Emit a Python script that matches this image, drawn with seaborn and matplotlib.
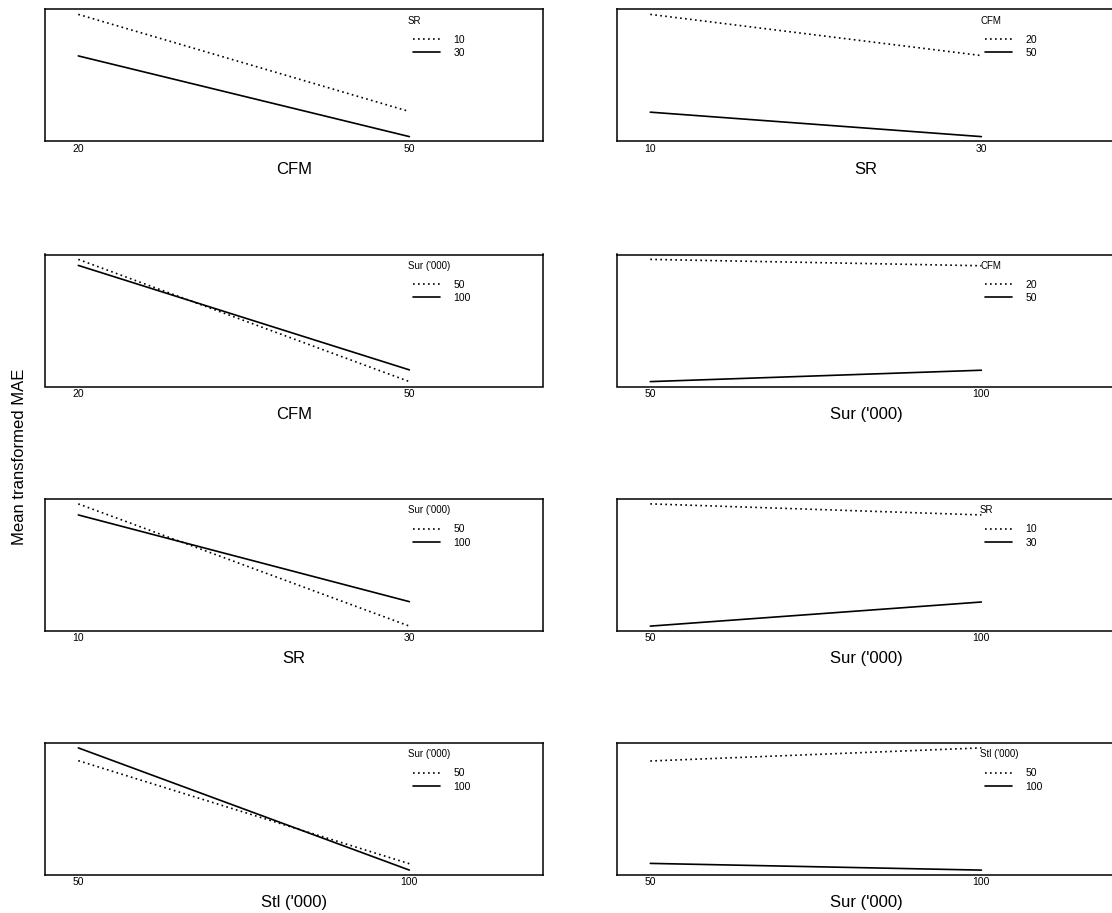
import numpy as np
import pandas as pd
import matplotlib
matplotlib.use("Agg")
import matplotlib.pyplot as plt
import seaborn as sns

# factor levels
cfm_levels = ["20", "50"]
sr_levels = ["10", "30"]
sur_levels = ["50", "100"]
stl_levels = ["50", "100"]

# mean transformed MAE, rows = trace level, cols = x level
cfm_by_sr = [[0.377, 0.087], [0.253, 0.012]]      # x CFM, trace SR
sr_by_cfm = [[0.377, 0.254], [0.085, 0.012]]      # x SR, trace CFM
cfm_by_sur = [[0.379, 0.014], [0.361, 0.049]]     # x CFM, trace Sur
sur_by_cfm = [[0.379, 0.360], [0.014, 0.048]]     # x Sur, trace CFM
sr_by_sur = [[0.380, 0.015], [0.347, 0.088]]      # x SR, trace Sur
sur_by_sr = [[0.380, 0.347], [0.015, 0.087]]      # x Sur, trace SR
stl_by_sur = [[0.341, 0.035], [0.379, 0.016]]     # x Stl, trace Sur
sur_by_stl = [[0.341, 0.380], [0.036, 0.016]]     # x Sur, trace Stl

panels = [
    ("CFM", cfm_levels, "SR", sr_levels, cfm_by_sr),
    ("SR", sr_levels, "CFM", cfm_levels, sr_by_cfm),
    ("CFM", cfm_levels, "Sur ('000)", sur_levels, cfm_by_sur),
    ("Sur ('000)", sur_levels, "CFM", cfm_levels, sur_by_cfm),
    ("SR", sr_levels, "Sur ('000)", sur_levels, sr_by_sur),
    ("Sur ('000)", sur_levels, "SR", sr_levels, sur_by_sr),
    ("Stl ('000)", stl_levels, "Sur ('000)", sur_levels, stl_by_sur),
    ("Sur ('000)", sur_levels, "Stl ('000)", stl_levels, sur_by_stl),
]

sns.set_style("white")
plt.rcParams["font.family"] = ["Liberation Sans", "DejaVu Sans"]
plt.rcParams["text.color"] = "black"
plt.rcParams["axes.labelcolor"] = "black"
plt.rcParams["xtick.color"] = "black"

W, H = 1112, 913
fig = plt.figure(figsize=(W / 100, H / 100), dpi=100)

col_x = [45, 617]
row_top = [9.5, 254.5, 499, 743]
ax_w, ax_h = 498, 132

for i, (xname, xlev, tname, tlev, vals) in enumerate(panels):
    r, c = divmod(i, 2)
    ax = fig.add_axes([col_x[c] / W, 1 - (row_top[r] + ax_h) / H, ax_w / W, ax_h / H])

    rows = []
    for ti, t in enumerate(tlev):
        for xi, xv in enumerate(xlev):
            rows.append({"x": xv, "trace": t, "y": vals[ti][xi]})
    df = pd.DataFrame(rows)
    df["x"] = pd.Categorical(df["x"], categories=xlev, ordered=True)

    sns.lineplot(data=df, x="x", y="y", style="trace", style_order=tlev,
                 dashes={tlev[0]: (1, 2), tlev[1]: ""}, color="black",
                 linewidth=1.2, legend=False, ax=ax)

    ymin = df["y"].min()
    ymax = df["y"].max()
    pad = 0.04 * (ymax - ymin)
    ax.set_ylim(ymin - pad, ymax + pad)
    ax.set_xlim(-0.1006, 1.4036)
    ax.set_yticks([])
    ax.set_ylabel("")
    ax.set_xticks([0, 1])
    ax.set_xticklabels(xlev)
    ax.tick_params(axis="x", length=0, pad=1.5, labelsize=7.5)
    ax.set_xlabel(xname, fontsize=12, labelpad=6)
    for sp in ax.spines.values():
        sp.set_visible(True)
        sp.set_color("black")
        sp.set_linewidth(1.1)

    # legend title drawn separately, R-style gap above the entries
    ax.text(0.729, 0.913, tname, transform=ax.transAxes, fontsize=7,
            ha="left", va="center")
    handles = ax.lines[:2]
    ax.legend(handles, tlev, loc="upper left",
              bbox_to_anchor=(0.739, 0.807), frameon=False, fontsize=7.5,
              handlelength=2.6, handletextpad=1.3,
              labelspacing=0.3, borderaxespad=0, borderpad=0)

fig.text(20 / W, 0.5, "Mean transformed MAE", rotation=90, fontsize=12,
         ha="center", va="center")

fig.savefig("out.png", dpi=100)
